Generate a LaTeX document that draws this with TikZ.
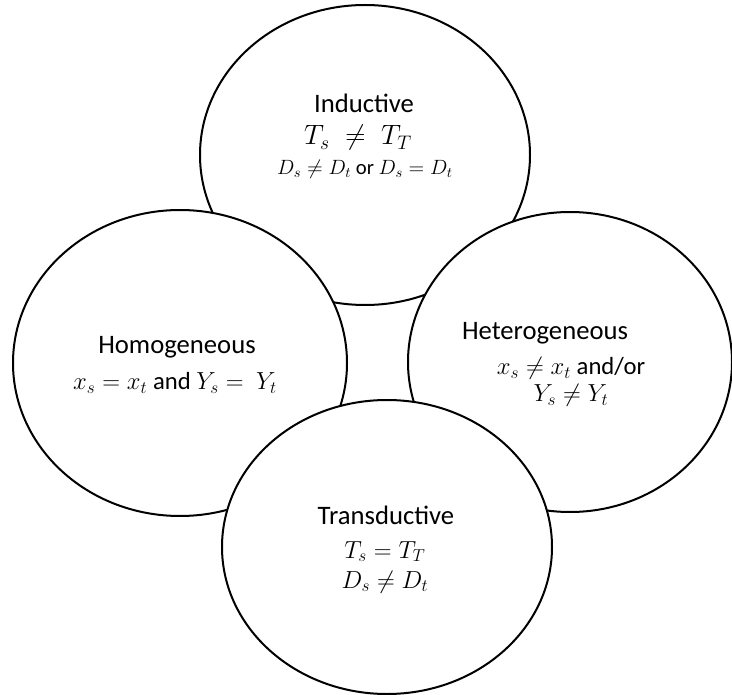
\RequirePackage{fix-cm}
\documentclass[tikz,border=0pt]{standalone}
\usepackage{fontspec}
\setmainfont{Carlito}
\usepackage{amsmath}

\begin{document}
\begin{tikzpicture}[x=0.75pt,y=-0.75pt,line width=1.5pt,
  burbuja/.style={draw=black,fill=white},
  titulo/.style={font=\fontsize{20}{24}\selectfont},
  cond/.style={font=\fontsize{18.5}{20}\selectfont,align=center}]
  \useasboundingbox (0,0) rectangle (732,695);
  % elipses (el orden fija el solape)
  \draw[burbuja] (365,155) ellipse (165 and 150);
  \draw[burbuja] (180,363) ellipse (167 and 153);
  \draw[burbuja] (570,362) ellipse (162 and 150);
  \draw[burbuja] (387,547) ellipse (165 and 147);
  % arriba
  \node[titulo] (ind) at (364,103) {Inductive};
  \node[cond,font=\fontsize{21}{24}\selectfont] (indT) at (358,138) {$T_s \;\neq\; T_T$};
  \node[font=\fontsize{15.5}{18}\selectfont] (indD) at (365,169) {$D_s \neq D_t$ or $D_s = D_t$};
  % izquierda
  \node[titulo] (hom) at (177,347) {Homogeneous};
  \node[cond] (homC) at (175,383) {$x_s = x_t$ and $Y_s =\ Y_t$};
  % derecha
  \node[titulo] (het) at (545,333) {Heterogeneous};
  \node[cond] (hetC) at (571,382) {$x_s \neq x_t$ and/or\\ $Y_s \neq Y_t$};
  % abajo
  \node[titulo] (tra) at (386,515) {Transductive};
  \node[cond,font=\fontsize{18.5}{22.5}\selectfont] (traC) at (385,567) {$T_s = T_T$\\ $D_s \neq D_t$};
\end{tikzpicture}
\end{document}
